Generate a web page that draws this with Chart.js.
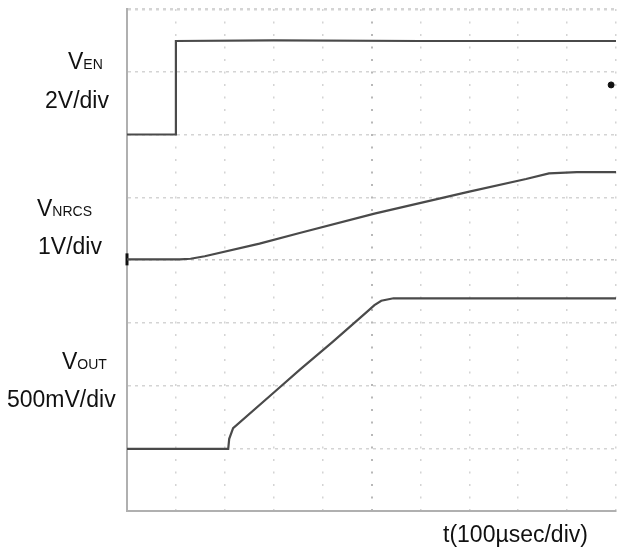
<!DOCTYPE html>
<html>
<head>
<meta charset="utf-8">
<script src="https://cdn.jsdelivr.net/npm/chart.js@4"></script>
<style>
  body { margin: 0; background: #fff; }
  #wrap { position: relative; width: 617px; height: 554px; }
  .lbl { position: absolute; font-family: "Liberation Sans", Arial, sans-serif; font-size: 23px; line-height: 23px; color: #111; white-space: nowrap; }
  .lbl sub { font-size: 14px; vertical-align: baseline; }
</style>
</head>
<body>
<div id="wrap">
  <canvas id="scope" width="617" height="554"></canvas>
  <div class="lbl" style="left:68px; top:50px;">V<sub>EN</sub></div>
  <div class="lbl" style="left:45px; top:89px;">2V/div</div>
  <div class="lbl" style="left:37px; top:197px;">V<sub>NRCS</sub></div>
  <div class="lbl" style="left:38px; top:235px;">1V/div</div>
  <div class="lbl" style="left:62px; top:350px;">V<sub>OUT</sub></div>
  <div class="lbl" style="left:7px; top:388px;">500mV/div</div>
  <div class="lbl" style="left:443px; top:523px;">t(100µsec/div)</div>
</div>
<script>
// time in divisions (100 µs/div), level in screen divisions from the bottom
const enTime = [0, 0.99, 1.0, 3.0, 6.0, 10];
const enLevel = [6.0, 6.0, 7.49, 7.5, 7.49, 7.49];

const nrcsTime = [0, 1.08, 1.3, 1.59, 2.71, 3.53, 5.06, 7.0, 8.16, 8.63, 9.2, 10];
const nrcsLevel = [4.01, 4.01, 4.02, 4.06, 4.26, 4.43, 4.74, 5.09, 5.29, 5.38, 5.40, 5.40];

const outTime = [0, 2.07, 2.09, 2.17, 3.05, 3.53, 4.2, 4.9, 5.06, 5.2, 5.45, 10];
const outLevel = [0.99, 0.99, 1.15, 1.32, 1.92, 2.25, 2.69, 3.17, 3.28, 3.35, 3.39, 3.39];

const trigTime = [9.9];
const trigLevel = [6.79];

const gndTime = [0];
const gndLevel = [4.01];

function pts(xs, ys) {
    return xs.map((x, i) => ({ x: x, y: ys[i] }));
}

const traceColor = '#4a4a4a';

function trace(label, xs, ys) {
    return {
        label: label,
        data: pts(xs, ys),
        borderColor: traceColor,
        borderWidth: 2.2,
        pointRadius: 0,
        tension: 0
    };
}

new Chart(document.getElementById('scope'), {
    type: 'line',
    data: {
        datasets: [
            trace('VEN', enTime, enLevel),
            trace('VNRCS', nrcsTime, nrcsLevel),
            trace('VOUT', outTime, outLevel),
            {
                label: 'trigger',
                data: pts(trigTime, trigLevel),
                showLine: false,
                pointRadius: 3,
                pointBackgroundColor: '#111',
                pointBorderColor: '#111',
                clip: false
            },
            {
                label: 'ground',
                data: pts(gndTime, gndLevel),
                showLine: false,
                pointStyle: 'line',
                rotation: 90,
                pointRadius: 6,
                pointBorderWidth: 3,
                pointBorderColor: '#111',
                clip: false
            }
        ]
    },
    options: {
        responsive: false,
        animation: false,
        layout: { autoPadding: false, padding: { left: 127, top: 9, right: 1, bottom: 43 } },
        plugins: { legend: { display: false }, tooltip: { enabled: false } },
        scales: {
            x: {
                type: 'linear',
                min: 0,
                max: 10,
                ticks: { display: false, stepSize: 1 },
                grid: {
                    drawTicks: false,
                    color: (c) => c.tick.value === 5 ? '#b8b8b8' : '#d4d4d4',
                    lineWidth: (c) => c.tick.value === 5 ? 2 : 1.5
                },
                border: { color: '#b0b0b0', width: 2, dash: [2, 10.5] }
            },
            y: {
                type: 'linear',
                min: 0,
                max: 8,
                ticks: { display: false, stepSize: 1 },
                grid: {
                    drawTicks: false,
                    color: (c) => c.tick.value === 4 ? '#c4c4c4' : '#d4d4d4',
                    lineWidth: (c) => c.tick.value === 8 ? 2.5 : 1.5
                },
                border: { color: '#b0b0b0', width: 2, dash: [3, 4] }
            }
        }
    }
});
</script>
</body>
</html>
